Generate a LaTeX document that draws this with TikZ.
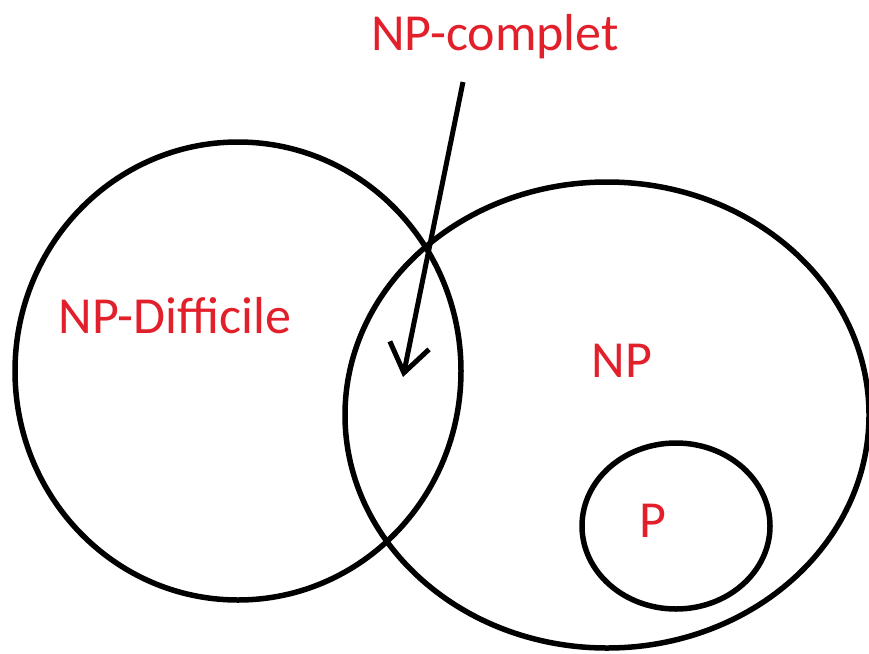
\documentclass[tikz,border=0pt]{standalone}
\usepackage{fontspec}
\setmainfont{Carlito}
\usetikzlibrary{shapes.geometric,arrows.meta}
\definecolor{labelred}{RGB}{226,32,44}
\begin{document}
\begin{tikzpicture}[x=1pt,y=-1pt,
  setshape/.style={draw=black,line width=5.5pt,ellipse,inner sep=0pt,outer sep=0pt},
  setlabel/.style={text=labelred,inner sep=0pt,anchor=base,font=\fontsize{52}{52}\selectfont},
  pointer/.style={draw=black,line width=5pt,-{Straight Barb[length=28pt,width=40pt,line width=5pt]}}]
\useasboundingbox (0,0) rectangle (869,653);
\node[setshape,minimum width=446pt,minimum height=458pt] (hard) at (238,371) {};
\node[setshape,minimum width=524pt,minimum height=466pt] (np) at (607,415) {};
\node[setshape,minimum width=188pt,minimum height=166pt] (p) at (676,526) {};
\node[setlabel] (lcomplet) at (495,50) {NP-complet};
\node[setlabel] (lhard) at (175,333) {NP-Difficile};
\node[setlabel] (lnp) at (622,377) {NP};
\node[setlabel] (lp) at (653,537) {P};
\coordinate (astart) at (463,82);
\coordinate (aend) at (403,377);
\draw[pointer] (astart) -- (aend);
\end{tikzpicture}
\end{document}
